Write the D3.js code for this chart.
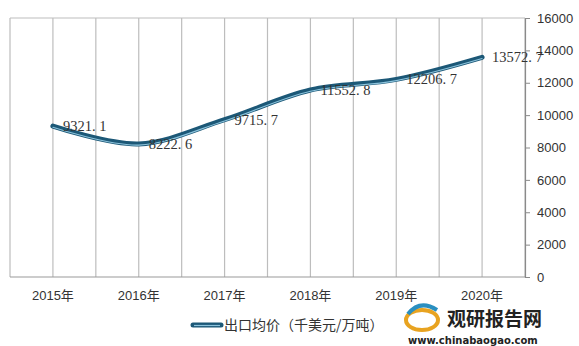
<!DOCTYPE html>
<html><head><meta charset="utf-8">
<script src="https://cdn.jsdelivr.net/npm/d3@7"></script>
<style>body{margin:0;background:#fff}svg{display:block}</style>
</head><body>
<svg id="c" width="579" height="346"></svg>
<script>
const categories = ["2015年","2016年","2017年","2018年","2019年","2020年"];
const values = [9321.1, 8222.6, 9715.7, 11552.8, 12206.7, 13572.7];
const valueLabels = ["9321. 1","8222. 6","9715. 7","11552. 8","12206. 7","13572. 7"];
const yTicks = [0,2000,4000,6000,8000,10000,12000,14000,16000];
const seriesName = "出口均价（千美元/万吨）";

const svg = d3.select("#c");
const L = 10, R = 525, T = 18, B = 277;
const x = d3.scaleBand().domain(categories).range([L, R]);
const y = d3.scaleLinear().domain([0, 16000]).range([B, T]);
const cx = c => x(c) + x.bandwidth()/2;

// gridlines at band edges and centers
const gx = [];
categories.forEach(c => { gx.push(x(c)); gx.push(cx(c)); });
gx.push(R);
svg.append("g").selectAll("line").data(gx).join("line")
  .attr("x1", d => d).attr("x2", d => d).attr("y1", T).attr("y2", B)
  .attr("stroke", "#bdbdbd").attr("stroke-width", 1.2);
svg.append("line").attr("x1", L).attr("x2", R).attr("y1", T).attr("y2", T)
  .attr("stroke", "#bdbdbd").attr("stroke-width", 1.2);
svg.append("line").attr("x1", L).attr("x2", R).attr("y1", B).attr("y2", B)
  .attr("stroke", "#9a9a9a").attr("stroke-width", 1.2);

// right axis
const ya = svg.append("g").attr("transform", `translate(${R},0)`)
  .call(d3.axisRight(y).tickValues(yTicks).tickSize(5).tickPadding(7).tickFormat(d3.format("d")));
ya.select(".domain").attr("stroke", "#8a8a8a").attr("stroke-width", 1.2);
ya.selectAll(".tick line").attr("stroke", "#8a8a8a");
ya.selectAll("text").attr("font-family", "Liberation Sans, Arial, sans-serif")
  .attr("font-size", 13).attr("fill", "#333");

// x labels
svg.append("g").selectAll("text").data(categories).join("text")
  .attr("x", d => cx(d)).attr("y", 300).attr("text-anchor", "middle")
  .attr("font-family", "Liberation Sans, 'Noto Sans CJK SC', sans-serif")
  .attr("font-size", 13).attr("fill", "#333").text(d => d);

// line
const pts = categories.map((c, i) => [cx(c), y(values[i])]);
const line = d3.line().curve(d3.curveCatmullRom.alpha(0.5));
svg.append("path").attr("d", line(pts)).attr("fill", "none")
  .attr("stroke", "#1c5877").attr("stroke-width", 5).attr("stroke-linecap", "round");
svg.append("path").attr("d", line(pts)).attr("fill", "none")
  .attr("transform", "translate(0,1.2)")
  .attr("stroke", "#8cc3dc").attr("stroke-width", 1.1).attr("stroke-linecap", "round");

// value labels
svg.append("g").selectAll("text").data(values).join("text")
  .attr("x", (d, i) => cx(categories[i]) + 10).attr("y", d => y(d) + 5)
  .attr("font-family", "Liberation Serif, 'DejaVu Serif', serif")
  .attr("font-size", 14.5).attr("fill", "#333")
  .text((d, i) => valueLabels[i]);

// legend
svg.append("line").attr("x1", 193).attr("x2", 221).attr("y1", 325).attr("y2", 325)
  .attr("stroke", "#1c5877").attr("stroke-width", 5).attr("stroke-linecap", "round");
svg.append("line").attr("x1", 194).attr("x2", 220).attr("y1", 325.5).attr("y2", 325.5)
  .attr("stroke", "#8cc3dc").attr("stroke-width", 1.2);
svg.append("text").attr("x", 224).attr("y", 330)
  .attr("font-family", "'Noto Sans CJK SC', sans-serif").attr("font-size", 14)
  .attr("fill", "#333").text(seriesName);

// watermark
const wm = svg.append("g");
wm.append("ellipse").attr("cx", 422).attr("cy", 320).attr("rx", 16).attr("ry", 10)
  .attr("fill", "none").attr("stroke", "#e8a320").attr("stroke-width", 4);
wm.append("path").attr("d", "M408,314 Q420,299 437,310").attr("fill", "none")
  .attr("stroke", "#2a8fc0").attr("stroke-width", 4);
wm.append("text").attr("x", 447).attr("y", 326)
  .attr("font-family", "'Noto Sans CJK SC', sans-serif").attr("font-weight", "bold")
  .attr("font-size", 19).attr("fill", "#222").text("观研报告网");
wm.append("text").attr("x", 408).attr("y", 344)
  .attr("font-family", "'DejaVu Sans', sans-serif").attr("font-weight", "bold")
  .attr("font-size", 10).attr("fill", "#222").text("www.chinabaogao.com");
</script>
</body></html>
